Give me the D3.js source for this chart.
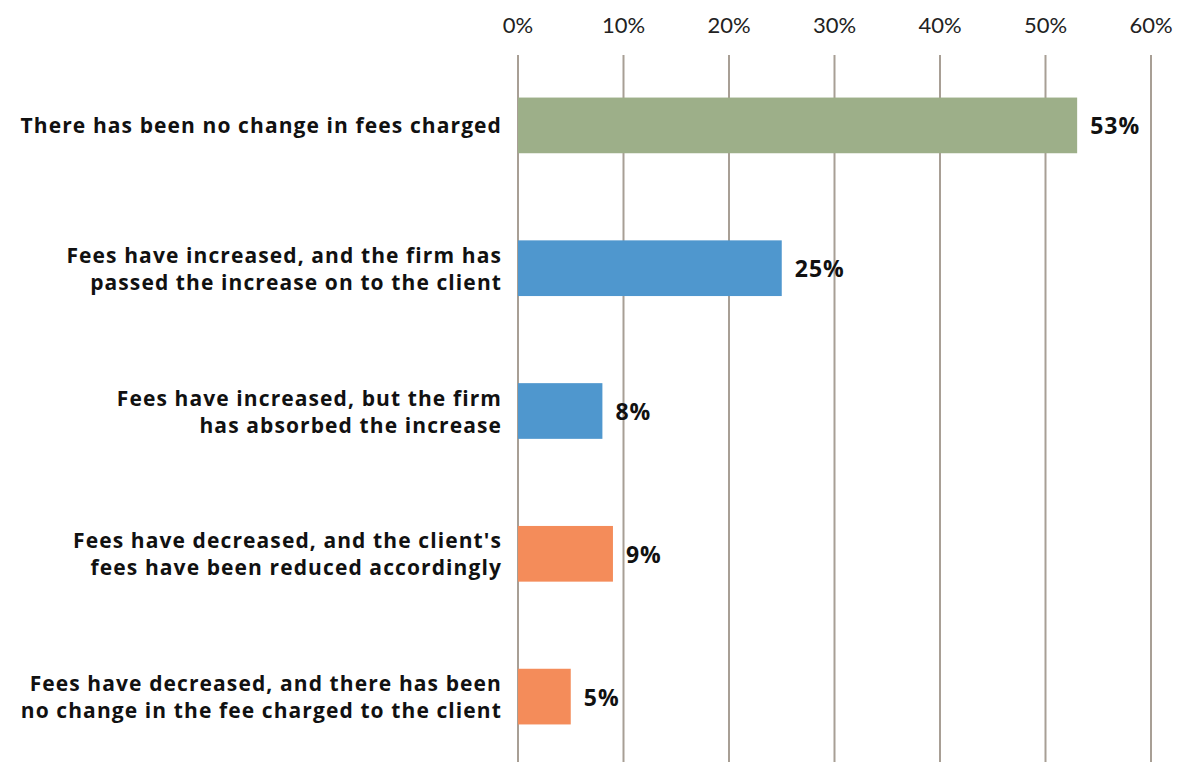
<!DOCTYPE html>
<html>
<head>
<meta charset="utf-8">
<script src="https://cdn.jsdelivr.net/npm/d3@7"></script>
<style>
  body { margin: 0; background: #fff; }
  svg { display: block; font-family: "Open Sans", "Lato", sans-serif; }
</style>
</head>
<body>
<svg id="chart" width="1193" height="762"></svg>
<script>
var categories = [
    ["There has been no change in fees charged"],
    ["Fees have increased, and the firm has", "passed the increase on to the client"],
    ["Fees have increased, but the firm", "has absorbed the increase"],
    ["Fees have decreased, and the client's", "fees have been reduced accordingly"],
    ["Fees have decreased, and there has been", "no change in the fee charged to the client"]
]
var values = [53, 25, 8, 9, 5]
var colors = ["#9daf89", "#4f97ce", "#4f97ce", "#f48c5a", "#f48c5a"]
var ticks = [0, 10, 20, 30, 40, 50, 60]

var svg = d3.select('#chart')

var x = d3.scaleLinear().domain([0, 60]).range([518, 1151])
var y = d3.scaleBand().domain(d3.range(values.length)).range([54, 768])
    .paddingInner(0.61).paddingOuter(0.305)

// grid lines
svg.append('g').selectAll('line').data(ticks).join('line')
    .attr('x1', d => x(d)).attr('x2', d => x(d))
    .attr('y1', 55).attr('y2', 762)
    .attr('stroke', '#a89f95').attr('stroke-width', 2)

// tick labels on top
svg.append('g').selectAll('text').data(ticks).join('text')
    .attr('x', d => x(d)).attr('y', 33)
    .attr('text-anchor', 'middle')
    .attr('font-family', 'Lato, sans-serif')
    .attr('font-size', 22)
    .attr('fill', '#222')
    .text(d => d + '%')

// bars
svg.append('g').selectAll('rect').data(values).join('rect')
    .attr('x', x(0)).attr('y', (d, i) => y(i))
    .attr('width', d => x(d) - x(0)).attr('height', y.bandwidth())
    .attr('fill', (d, i) => colors[i])

// value labels
svg.append('g').selectAll('text').data(values).join('text')
    .attr('x', d => x(d) + 13)
    .attr('y', (d, i) => y(i) + y.bandwidth() / 2 + 9)
    .attr('font-size', 23).attr('font-weight', 'bold')
    .attr('letter-spacing', 1)
    .attr('fill', '#111')
    .text(d => d + '%')

// category labels
var lab = svg.append('g').selectAll('text').data(categories).join('text')
    .attr('text-anchor', 'end')
    .attr('font-size', 21).attr('font-weight', 'bold')
    .attr('letter-spacing', 1.1)
    .attr('fill', '#111')
lab.each(function (lines, i) {
    var cy = y(i) + y.bandwidth() / 2
    var t = d3.select(this)
    lines.forEach((s, k) => {
        var off = (k - (lines.length - 1) / 2) * 27
        t.append('tspan').attr('x', 502).attr('y', cy + off + 8).text(s)
    })
})
</script>
</body>
</html>
